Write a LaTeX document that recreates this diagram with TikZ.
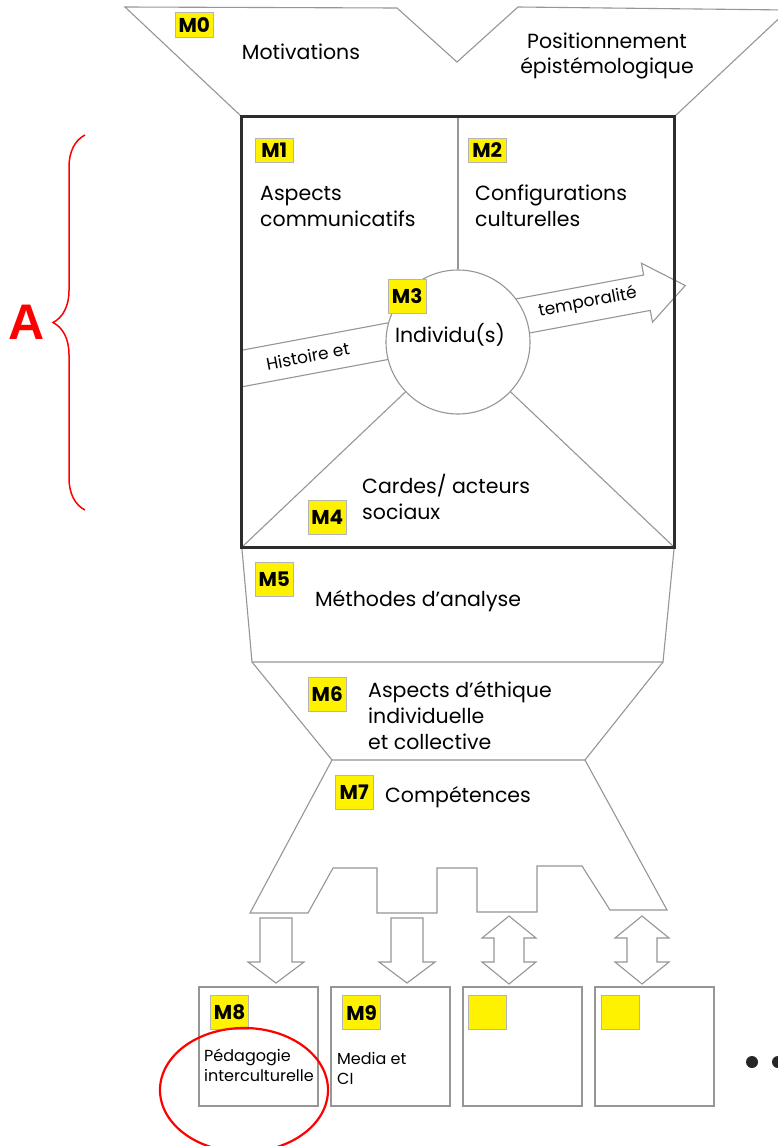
\documentclass[tikz,border=0pt]{standalone}
\usepackage{fontspec}
\setmainfont{Poppins}
\newfontfamily\letterfont{Liberation Sans}
\usetikzlibrary{decorations.pathreplacing}
\definecolor{linegray}{RGB}{150,150,150}
\definecolor{framegray}{RGB}{45,45,45}
\definecolor{tagyellow}{RGB}{255,242,0}

\begin{document}
\begin{tikzpicture}[x=1pt, y=-1pt,
    grayline/.style={draw=linegray, line width=1.1pt},
    tag/.style={draw=linegray!70, fill=tagyellow, inner sep=0, anchor=north west,
        minimum width=38pt, minimum height=34pt, font=\bfseries\fontsize{20}{20}\selectfont},
    txt/.style={inner sep=0, align=left, font=\fontsize{20.5}{26}\selectfont},
    smalltxt/.style={inner sep=0, align=left, anchor=west, font=\fontsize{16}{20}\selectfont},
    modbox/.style={draw=linegray, line width=1.1pt, minimum size=119pt, inner sep=0}]

\useasboundingbox[fill=white] (0,0) rectangle (778,1146);

\node[minimum width=432pt, minimum height=430pt, inner sep=0] (frame) at (458,332) {};

\draw[grayline] (125,7) -- (397,8) -- (457,62) -- (518,7) -- (788,10) -- (frame.north east) -- (frame.north west) -- cycle;

\begin{scope}[shift={(242,368.5)}, rotate=10.6]
  \draw[grayline, fill=white] (3.4,-18) -- (412,-18) -- (412,-30) -- (451,0) -- (412,30) -- (412,18) -- (-3.4,18) -- cycle;
  \node[rotate=10.6, font=\fontsize{17}{17}\selectfont] (hist) at (67,0) {Histoire et};
  \node[rotate=10.6, font=\fontsize{17}{17}\selectfont] (temp) at (352,-1) {temporalité};
\end{scope}

\node[circle, draw=linegray, line width=1.1pt, fill=white, minimum size=144pt, inner sep=0] (indiv) at (458,342) {};
\draw[grayline] (frame.north) -- (indiv);
\draw[grayline] (indiv) -- (frame.south west);
\draw[grayline] (indiv) -- (frame.south east);

\draw[grayline] (frame.south west) -- (252,662) -- (663,662) -- (frame.south east);
\draw[grayline] (252,662) -- (332,760) -- (585,760) -- (663,662);
\draw[grayline] (332,760) -- (250,913) -- (308,913) -- (333,868) -- (377,868) -- (377,913) -- (437,913) -- (437,868)
    -- (477,868) -- (477,912) -- (537,912) -- (537,866) -- (582,866) -- (610,910) -- (667,910) -- (585,760);

\draw[framegray, line width=3pt] (frame.south west) rectangle (frame.north east);

\foreach \c in {276,407}
  \draw[grayline] (\c-16,918) -- (\c+16,918) -- (\c+16,962) -- (\c+28,962) -- (\c,983) -- (\c-28,962) -- (\c-16,962) -- cycle;
\foreach \c in {509,642}
  \draw[grayline] (\c,916) -- (\c+27,938) -- (\c+15,938) -- (\c+15,962) -- (\c+27,962) -- (\c,984)
      -- (\c-27,962) -- (\c-15,962) -- (\c-15,938) -- (\c-27,938) -- cycle;

\foreach \x/\n in {258.5/b8, 390.5/b9, 522.5/b10, 654.5/b11}
  \node[modbox] (\n) at (\x,1046.5) {};

\node[tag, minimum height=25pt] (m0) at (175,12) {M0};
\node[tag, minimum height=24pt] (m1) at (255,138) {M1};
\node[tag, minimum height=24pt] (m2) at (468,138) {M2};
\node[tag] (m3) at (388,279) {M3};
\node[tag] (m4) at (308,500) {M4};
\node[tag] (m5) at (255,562) {M5};
\node[tag] (m6) at (308,677) {M6};
\node[tag] (m7) at (335,775) {M7};
\node[tag] (m8) at ([shift={(12,9)}]b8.north west) {M8};
\node[tag] (m9) at ([shift={(12,9)}]b9.north west) {M9};
\node[tag] (m10) at ([shift={(6,9)}]b10.north west) {};
\node[tag] (m11) at ([shift={(7,9)}]b11.north west) {};

\node[txt] (motiv) at (301,52) {Motivations};
\node[txt, align=center, font=\fontsize{20.5}{24.5}\selectfont] (posit) at (607,56) {Positionnement\\épistémologique};
\node[txt, anchor=west] (comm) at (260,206) {Aspects\\communicatifs};
\node[txt, anchor=west] (conf) at (475,206) {Configurations\\culturelles};
\node[txt] (ind) at (450,335) {Individu(s)};
\node[txt, anchor=west] (cadres) at (362,497) {Cardes/ acteurs\\sociaux};
\node[txt] (meth) at (418,601) {Méthodes d'analyse};
\node[txt, anchor=west] (ethi) at (368,716) {Aspects d'éthique\\individuelle\\et collective};
\node[txt] (comp) at (458,797) {Compétences};
\node[smalltxt] (peda) at (204,1065) {Pédagogie\\interculturelle};
\node[smalltxt] (media) at (337,1068) {Media et\\CI};

\fill[black!85] (752,1062) circle[radius=6pt];
\fill[black!85] (778,1062) circle[radius=6pt];

\draw[red, line width=2.2pt] (244,1090) ellipse[x radius=84pt, y radius=62pt];
\draw[red, line width=1.5pt, decorate, decoration={brace, amplitude=32pt}] (85,510) -- (85,135);
\node[text=red, font=\letterfont\bfseries\fontsize{50}{50}\selectfont] (a) at (27,322) {A};

\end{tikzpicture}
\end{document}
